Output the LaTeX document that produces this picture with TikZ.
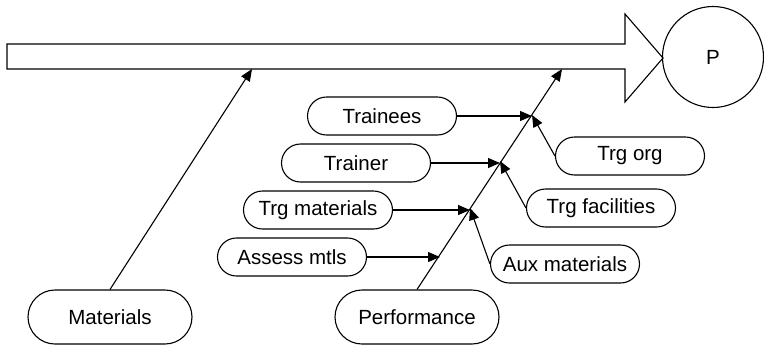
\documentclass[tikz,border=0pt]{standalone}
\usepackage{fontspec}
\setmainfont{Liberation Sans}
\usetikzlibrary{arrows.meta}

\begin{document}
\begin{tikzpicture}[x=1pt,y=-1pt, line width=1.1pt, >={Triangle[length=12pt,width=10pt]},
  box/.style={draw, rounded corners=19pt, minimum width=149pt, minimum height=38pt, inner sep=0pt, font=\fontsize{20.5}{24}\selectfont},
  bigbox/.style={box, rounded corners=27pt, minimum width=164pt, minimum height=54pt}]
\useasboundingbox (0,0) rectangle (764,346);
\draw (7,44) -- (625,44) -- (625,14) -- (663,58) -- (625,102) -- (625,69) -- (7,69) -- cycle;
\node (P) at (713,57) [circle, draw, minimum size=101pt, inner sep=0pt, font=\fontsize{20.5}{24}\selectfont] {P};
\coordinate (mtop) at (252,69);
\coordinate (ptop) at (562,69);
\coordinate (j1) at (532,116);
\coordinate (j2) at (500,163);
\coordinate (j3) at (470,210);
\coordinate (j4) at (440,257);
\node (mat) at (110,317) [bigbox] {Materials};
\node (perf) at (417,317) [bigbox] {Performance};
\node (trainees) at (382,116) [box] {Trainees};
\node (trainer) at (356,163) [box] {Trainer};
\node (trgmat) at (318,210) [box] {Trg materials};
\node (assess) at (292,257) [box] {Assess mtls};
\node (trgorg) at (630,156) [box] {Trg org};
\node (trgfac) at (601,208) [box] {Trg facilities};
\node (aux) at (565,264) [box] {Aux materials};
\draw[->] (mat.north) -- (mtop);
\draw[->] (perf.north) -- (ptop);
\draw[->] (trainees.east) -- (j1);
\draw[->] (trainer.east) -- (j2);
\draw[->] (trgmat.east) -- (j3);
\draw[->] (assess.east) -- (j4);
\draw[->] (trgorg.west) -- ([yshift=1pt]j1);
\draw[->] (trgfac.west) -- ([yshift=2pt]j2);
\draw[->] (aux.west) -- ([yshift=2pt]j3);
\end{tikzpicture}
\end{document}
